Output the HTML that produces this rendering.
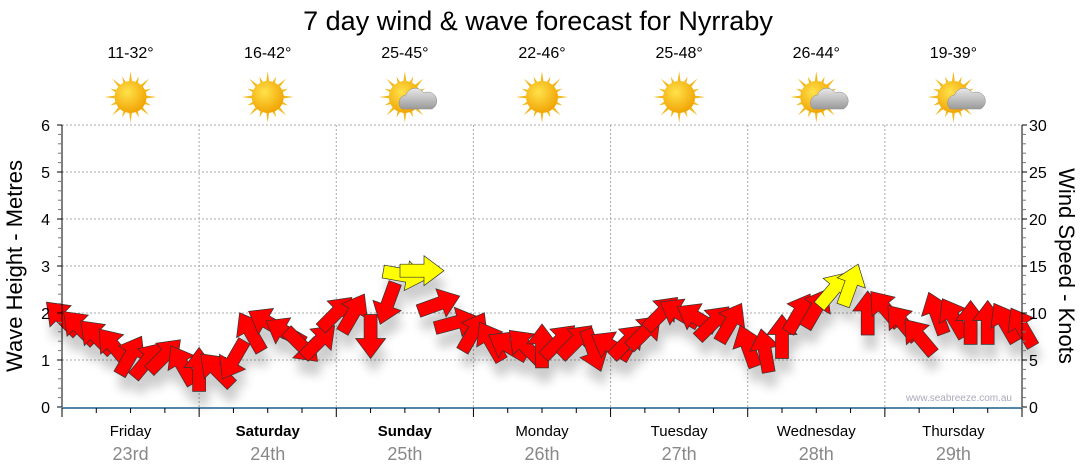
<!DOCTYPE html>
<html><head><meta charset="utf-8">
<style>
body{margin:0;background:#fff;width:1080px;height:475px;overflow:hidden}
svg{display:block;font-family:"Liberation Sans",sans-serif}
</style></head>
<body>
<svg id="chart" width="1080" height="475">
<defs>
<filter id="sh" x="-50%" y="-50%" width="200%" height="250%">
<feGaussianBlur in="SourceAlpha" stdDeviation="5"/>
<feOffset dx="3" dy="14" result="b"/>
<feComponentTransfer><feFuncA type="linear" slope="0.2"/></feComponentTransfer>
<feMerge><feMergeNode/><feMergeNode in="SourceGraphic"/></feMerge>
</filter>
<radialGradient id="sun" cx="40%" cy="35%" r="70%"><stop offset="0" stop-color="#ffe24a"/><stop offset="1" stop-color="#f0a000"/></radialGradient>
<linearGradient id="cloud" x1="0" y1="0" x2="0" y2="1"><stop offset="0" stop-color="#e8e8e8"/><stop offset="1" stop-color="#9a9a9a"/></linearGradient>
</defs>
<text x="538" y="30" text-anchor="middle" font-size="27" fill="#000">7 day wind &amp; wave forecast for Nyrraby</text>
<g id="grid"></g>
<g id="icons"></g>
<g id="arrows" filter="url(#sh)"></g>
<g id="axes"></g>
<text x="1012" y="401" text-anchor="end" font-size="10" fill="#aab">www.seabreeze.com.au</text>
<text transform="translate(22,266) rotate(-90)" text-anchor="middle" font-size="22">Wave Height - Metres</text>
<text transform="translate(1059,266) rotate(90)" text-anchor="middle" font-size="22">Wind Speed - Knots</text>
</svg>
<script>
const days = ["Friday","Saturday","Sunday","Monday","Tuesday","Wednesday","Thursday"];
const dates = ["23rd","24th","25th","26th","27th","28th","29th"];
const boldDays = [false,true,true,false,false,false,false];
const temps = ["11-32°","16-42°","25-45°","22-46°","25-48°","26-44°","19-39°"];
const cloudy = [false,false,true,false,false,true,true];
const waveTicks = [0,1,2,3,4,5,6];
const windTicks = [0,5,10,15,20,25,30];
const windSpeed = [9.5,8.5,7.5,6.5,5.5,5,5.5,4.5, 4,4,5,8,9,8,6.5,7, 10,10,7.5,11,14,14.5,11,9, 8,7,6.5,6.5,6.5,7,7,6, 6.5,7,8,10,10,9.5,9,9, 6.5,6,7.5,10,10.5,12.5,13,10, 10.5,9,7.5,10,9.5,9,9,9,8.5];
const windDir = [315,315,315,320,30,40,45,330, 0,315,210,330,300,300,135,45, 45,30,180,200,100,90,70,75, 30,330,300,315,0,45,45,160, 300,45,45,45,300,300,45,30, 340,350,0,30,30,40,20,0, 320,320,320,340,330,0,0,330,330];
const yellowThreshold = 12;

const NS="http://www.w3.org/2000/svg";
const X0=62,X1=1022,Y0=407,Y1=125;
const nPts=windSpeed.length;
function xIdx(i){return X0+(X1-X0)*i/(nPts-1);}
function yWave(m){return Y0-(Y0-Y1)*m/6;}
function yWind(k){return Y0-(Y0-Y1)*k/30;}
function xDay(d){return X0+(X1-X0)*d/7;}
function mk(tag,attrs,parent,name,txt){const e=document.createElementNS(NS,tag);for(const k in attrs)e.setAttribute(k,attrs[k]);


if(txt!==undefined)e.textContent=txt;parent.appendChild(e);return e;}
const grid=document.getElementById('grid'),axes=document.getElementById('axes'),arrows=document.getElementById('arrows'),icons=document.getElementById('icons');
waveTicks.forEach(v=>{if(v>0)mk('line',{x1:X0,x2:X1,y1:yWave(v),y2:yWave(v),stroke:'#aaa','stroke-dasharray':'2,2'},grid,'gridline-h');});
for(let d=1;d<7;d++)mk('line',{x1:xDay(d),x2:xDay(d),y1:Y1,y2:Y0,stroke:'#aaa','stroke-dasharray':'2,2'},grid,'gridline-v');
mk('line',{x1:X0,x2:X0,y1:Y1,y2:Y0,stroke:'#000'},axes,'left-axis-line');
mk('line',{x1:X1,x2:X1,y1:Y1,y2:Y0,stroke:'#000'},axes,'right-axis-line');
mk('line',{x1:X0,x2:X1,y1:Y0+1,y2:Y0+1,stroke:'#1d5f8a','stroke-width':1.5},axes,'x-axis-line');
for(let m=0;m<=30;m++){const yy=Y0-(Y0-Y1)*m/30;
const big=m%5===0;mk('line',{x1:X0-(big?5:4),x2:X0,y1:yy,y2:yy,stroke:big?'#000':'#777'},axes,'left-tick');
mk('line',{x1:X1,x2:X1+(big?5:4),y1:yy,y2:yy,stroke:big?'#000':'#777'},axes,'right-tick');}
waveTicks.forEach(v=>mk('text',{x:50,y:yWave(v)+6,'text-anchor':'end','font-size':16},axes,'left-tick-label',String(v)));
windTicks.forEach(v=>mk('text',{x:1029,y:yWind(v)+6,'font-size':16},axes,'right-tick-label',String(v)));
for(let q=0;q<=28;q++){const x=X0+(X1-X0)*q/28;const big=q%4===0;mk('line',{x1:x,x2:x,y1:Y0+1,y2:Y0+(big?10:6),stroke:'#000'},axes,'x-tick');}
days.forEach((d,i)=>{const cx=(xDay(i)+xDay(i+1))/2;
mk('text',{x:cx,y:436,'text-anchor':'middle','font-size':15,'font-weight':boldDays[i]?'bold':'normal'},axes,'day-label',d);
mk('text',{x:cx,y:460,'text-anchor':'middle','font-size':18,fill:'#888'},axes,'date-label',dates[i]);
mk('text',{x:cx,y:58,'text-anchor':'middle','font-size':16},icons,'temperature-label',temps[i]);
const g=mk('g',{transform:`translate(${cx},97)`},icons,'weather-icon');
for(let r=0;r<16;r++){const a=r*Math.PI/8,l=r%2?22:26;mk('polygon',{points:`${Math.cos(a-0.12)*14},${Math.sin(a-0.12)*14} ${Math.cos(a)*l},${Math.sin(a)*l} ${Math.cos(a+0.12)*14},${Math.sin(a+0.12)*14}`,fill:'#f2b81c'},g,'sun-ray');}
mk('circle',{r:16,fill:'url(#sun)'},g,'sun');
if(cloudy[i]){mk('path',{d:'M-3,12 a8,8 0 0 1 4,-14 a10,10 0 0 1 18,-2 a8,8 0 0 1 8,16 z',fill:'url(#cloud)',stroke:'#888','stroke-width':0.5},g,'cloud');}
});
const L=44,HW=15,SW=6.5,HL=20;
windSpeed.forEach((k,i)=>{const x=xIdx(i),y=yWind(k);
const pts=`0,${-L/2} ${HW},${-L/2+HL} ${SW},${-L/2+HL} ${SW},${L/2} ${-SW},${L/2} ${-SW},${-L/2+HL} ${-HW},${-L/2+HL}`;
mk('polygon',{points:pts,transform:`translate(${x.toFixed(1)},${y.toFixed(1)}) rotate(${windDir[i]})`,fill:k>=yellowThreshold?'#ffff00':'#ff0000',stroke:'#333','stroke-width':0.7},arrows,'wind-arrow');
});
</script>
</body></html>
